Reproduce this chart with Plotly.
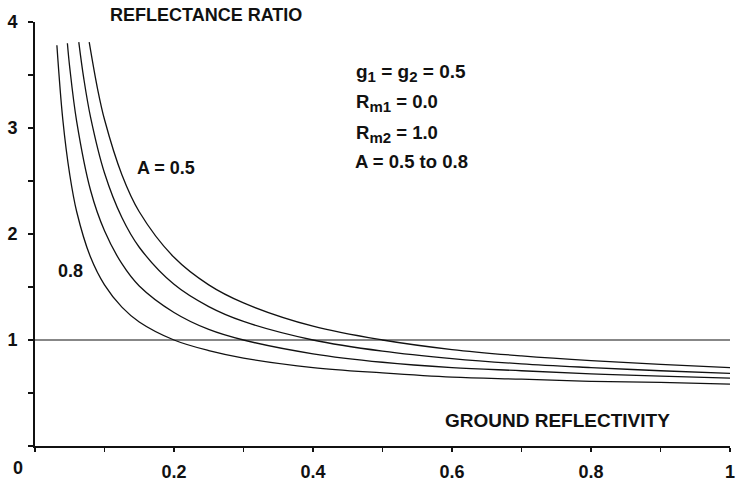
import plotly.graph_objects as go

# Curves: reflectance ratio vs ground reflectivity
x_a05 = [0.078, 0.09, 0.1, 0.125, 0.15, 0.2, 0.25, 0.3, 0.4, 0.5, 0.6, 0.7, 0.8, 0.9, 1.0]
y_a05 = [3.81, 3.37, 3.08, 2.56, 2.21, 1.78, 1.52, 1.35, 1.13, 1.00, 0.91, 0.85, 0.805, 0.77, 0.74]

x_a06 = [0.063, 0.07, 0.08, 0.1, 0.125, 0.15, 0.2, 0.25, 0.3, 0.4, 0.5, 0.6, 0.7, 0.8, 0.9, 1.0]
y_a06 = [3.81, 3.475, 3.10, 2.575, 2.155, 1.875, 1.525, 1.315, 1.175, 1.00, 0.895, 0.825, 0.775, 0.74, 0.71, 0.685]

x_a07 = [0.0466, 0.05, 0.06, 0.08, 0.1, 0.125, 0.15, 0.2, 0.25, 0.3, 0.4, 0.5, 0.6, 0.7, 0.8, 0.9, 1.0]
y_a07 = [3.80, 3.57, 3.06, 2.41, 2.03, 1.72, 1.51, 1.26, 1.10, 1.00, 0.87, 0.79, 0.74, 0.71, 0.68, 0.66, 0.64]

x_a08 = [0.0315, 0.04, 0.05, 0.06, 0.08, 0.1, 0.125, 0.15, 0.2, 0.25, 0.3, 0.4, 0.5, 0.6, 0.7, 0.8, 0.9, 1.0]
y_a08 = [3.78, 3.08, 2.56, 2.21, 1.78, 1.52, 1.31, 1.17, 1.00, 0.90, 0.83, 0.74, 0.69, 0.65, 0.63, 0.61, 0.60, 0.584]

ref_x = [0.0, 1.0]
ref_y = [1.0, 1.0]

x_ticks = [0.2, 0.4, 0.6, 0.8, 1.0]
x_tick_text = ["0.2", "0.4", "0.6", "0.8", "1"]
y_ticks = [1, 2, 3, 4]
y_tick_text = ["1", "2", "3", "4"]

FONT = "Liberation Sans, Arial, sans-serif"
INK = "#111111"

fig = go.Figure()
for xs, ys in [(x_a05, y_a05), (x_a06, y_a06), (x_a07, y_a07), (x_a08, y_a08)]:
    fig.add_trace(go.Scatter(x=xs, y=ys, mode="lines",
                             line=dict(color=INK, width=1.3, shape="spline", smoothing=1.0),
                             showlegend=False, hoverinfo="skip"))
fig.add_trace(go.Scatter(x=ref_x, y=ref_y, mode="lines",
                         line=dict(color=INK, width=1.1), showlegend=False, hoverinfo="skip"))

tickfont = dict(family=FONT, size=18, color=INK, weight="bold")

fig.update_layout(
    width=738, height=485,
    margin=dict(l=35, r=3, t=22, b=33),
    paper_bgcolor="white", plot_bgcolor="white",
    xaxis=dict(range=[0, 1.0], tickvals=x_ticks, ticktext=x_tick_text,
               showgrid=False, zeroline=False, showline=True, linecolor=INK, linewidth=1.5,
               ticks="outside", ticklen=4, tickwidth=1.3, tickcolor=INK,
               minor=dict(dtick=0.1, tick0=0, ticks="outside", ticklen=4, tickwidth=1.3,
                          tickcolor=INK, showgrid=False),
               tickfont=tickfont, ticklabelstandoff=5, ticklabeloverflow="allow"),
    yaxis=dict(range=[0, 4.0], tickvals=y_ticks, ticktext=y_tick_text,
               showgrid=False, zeroline=False, showline=True, linecolor=INK, linewidth=2,
               ticks="outside", ticklen=5, tickwidth=1.5, tickcolor=INK,
               minor=dict(dtick=0.5, tick0=0, ticks="outside", ticklen=5, tickwidth=1.5,
                          tickcolor=INK, showgrid=False),
               tickfont=tickfont, ticklabelstandoff=7, ticklabeloverflow="allow"),
    font=dict(family=FONT, color=INK),
)


def px_ann(text, xpx, ypx, size=18, anchor="left"):
    # pixel position relative to the plot area (x: 35..735, y: 22..452)
    xp = (xpx - 35) / 700.0
    yp = (452 - ypx) / 430.0
    return dict(x=xp, y=yp, xref="paper", yref="paper", text=text, showarrow=False,
                xanchor=anchor, yanchor="middle",
                font=dict(family=FONT, size=size, color=INK, weight="bold"))


def sub(s):
    return "<sub><span style='font-size:15px'>" + s + "</span></sub>"


annotations = [
    dict(x=0, y=0, xref="x", yref="y", text="0", showarrow=False,
         xshift=-17, yshift=-22, font=tickfont),
    px_ann("REFLECTANCE RATIO", 109, 15, 18),
    px_ann("GROUND REFLECTIVITY", 446, 426, 19),
    px_ann("A = 0.5", 136, 170, 18),
    px_ann("0.8", 56, 275, 18),
    px_ann("g" + sub("1") + " = g" + sub("2") + " = 0.5", 356, 74, 19),
    px_ann("R" + sub("m1") + " = 0.0", 356, 104, 18.5),
    px_ann("R" + sub("m2") + " = 1.0", 356, 136, 18.5),
    px_ann("A = 0.5 to 0.8", 355, 163, 18.5),
]
fig.update_layout(annotations=annotations)

fig.write_html("out.html",
               config={"displayModeBar": False, "staticPlot": True},
               post_script="document.body.style.margin='0';document.body.style.padding='0';")
